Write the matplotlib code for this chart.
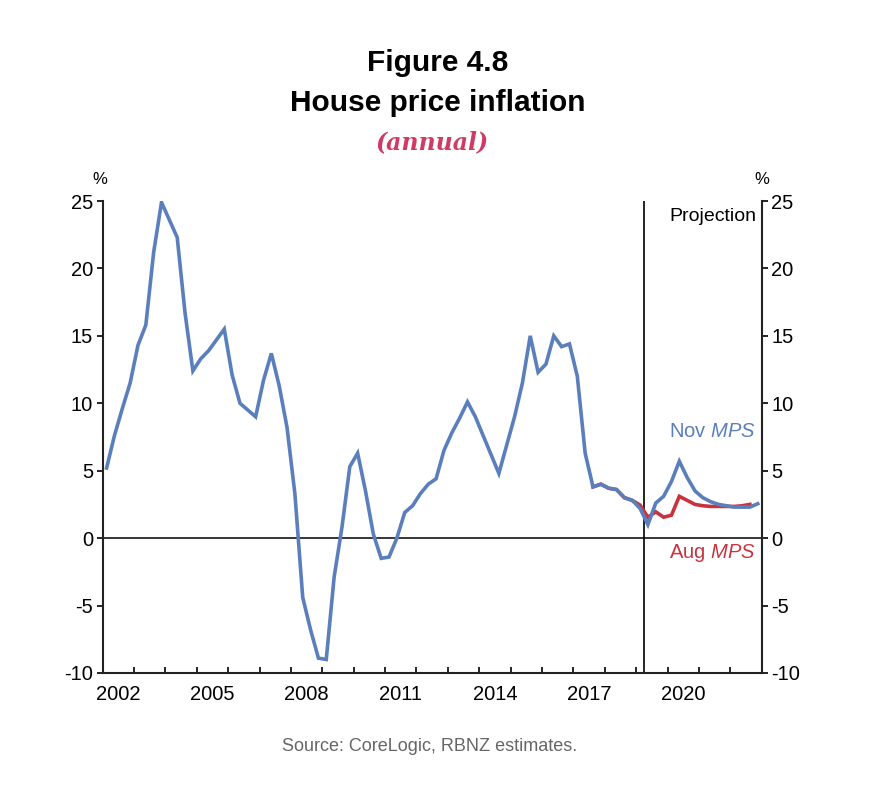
import matplotlib
matplotlib.use('Agg')
import matplotlib.pyplot as plt
import numpy as np

# 数据：季度数据，从 2002Q1 开始
start_year = 2002
nov_mps = [5.2, 7.6, 9.6, 11.5, 14.3, 15.8, 21.2, 24.9, 23.6, 22.3,
           16.7, 12.4, 13.3, 13.9, 14.7, 15.5, 12.1, 10.0, 9.5, 9.0,
           11.7, 13.7, 11.3, 8.2, 3.3, -4.4, -6.8, -8.9, -9.0, -2.9,
           0.8, 5.3, 6.3, 3.5, 0.3, -1.5, -1.4, 0.0, 1.9, 2.4,
           3.3, 4.0, 4.4, 6.5, 7.8, 8.9, 10.1, 9.0, 7.6, 6.2,
           4.8, 6.9, 9.0, 11.5, 15.0, 12.3, 12.9, 15.0, 14.2, 14.4,
           12.0, 6.3, 3.8, 4.0, 3.7, 3.6, 3.0, 2.8, 2.2, 1.0,
           2.6, 3.1, 4.2, 5.7, 4.5, 3.5, 3.0, 2.7, 2.5, 2.4,
           2.3, 2.3, 2.3, 2.55]
aug_start = 62  # Aug MPS 从第 62 个季度开始画（之前与 Nov 重合）
aug_mps = [3.8, 4.0, 3.7, 3.6, 3.0, 2.8, 2.45, 1.55, 1.95, 1.55,
           1.7, 3.1, 2.8, 2.5, 2.4, 2.35, 2.35, 2.35, 2.35, 2.4, 2.5]
projection_start = 2019.25
year_labels = [2002, 2005, 2008, 2011, 2014, 2017, 2020]
y_ticks = [-10, -5, 0, 5, 10, 15, 20, 25]

blue = '#5a7fbc'
red = '#c9333f'
title_red = '#cf3a66'

x_nov = start_year + 0.125 + 0.25 * np.arange(len(nov_mps))
x_aug = start_year + 0.125 + 0.25 * (aug_start + np.arange(len(aug_mps)))

plt.rcParams['font.family'] = ['Liberation Sans', 'DejaVu Sans']
plt.rcParams['axes.unicode_minus'] = False
plt.rcParams['mathtext.fontset'] = 'custom'
plt.rcParams['mathtext.rm'] = 'Liberation Sans'
plt.rcParams['mathtext.it'] = 'Liberation Sans:italic'

fig = plt.figure(figsize=(8.76, 7.92), dpi=100)
ax = fig.add_axes([0.1172, 0.1503, 0.8695 - 0.1172, 0.7462 - 0.1503])

ax.plot(x_aug, aug_mps, color=red, linewidth=2.6, solid_joinstyle='miter')
ax.plot(x_nov, nov_mps, color=blue, linewidth=2.6, solid_joinstyle='miter')
ax.axhline(0, color='black', linewidth=1.1, zorder=1)
ax.axvline(projection_start, color='black', linewidth=1.2, zorder=1)

ax.set_xlim(2002, 2023)
ax.set_ylim(-10, 25)

# 坐标轴
ax.spines['top'].set_visible(False)
for s in ['left', 'right', 'bottom']:
    ax.spines[s].set_linewidth(1.5)
    ax.spines[s].set_color('#222222')

ax.set_yticks(y_ticks)
ax.tick_params(axis='y', which='both', direction='out', length=4, width=1.2,
               labelsize=14.5, left=True, right=True, labelleft=True, labelright=True, pad=3)
ax.set_xticks([y + 0.5 for y in year_labels])
ax.set_xticklabels([str(y) for y in year_labels])
ax.set_xticks(np.arange(2002, 2024), minor=True)
ax.tick_params(axis='x', which='major', length=0, labelsize=14.5, pad=9)
ax.tick_params(axis='x', which='minor', direction='in', length=4, width=1.2)

# 文本
fig.text(0.5, 0.921, 'Figure 4.8', ha='center', va='center', fontsize=21.5, fontweight='bold')
fig.text(0.5, 0.870, 'House price inflation', ha='center', va='center', fontsize=21.5, fontweight='bold')
fig.text(0.493, 0.821, '(annual)', ha='center', va='center', fontsize=17, fontweight='bold',
         style='italic', color=title_red, family=['DejaVu Serif'])
fig.text(0.114, 0.773, '%', ha='center', va='center', fontsize=12)
fig.text(0.870, 0.773, '%', ha='center', va='center', fontsize=12)
fig.text(0.49, 0.058, 'Source: CoreLogic, RBNZ estimates.', ha='center', va='center',
         fontsize=13, color='#666666')

ax.text(2022.82, 23.85, 'Projection', ha='right', va='center', fontsize=14)
ax.text(2022.82, 7.9, r'Nov $\mathit{MPS}$', ha='right', va='center', fontsize=14.5, color=blue)
ax.text(2022.82, -1.1, r'Aug $\mathit{MPS}$', ha='right', va='center', fontsize=14.5, color=red)

plt.savefig('out.png', dpi=100)
